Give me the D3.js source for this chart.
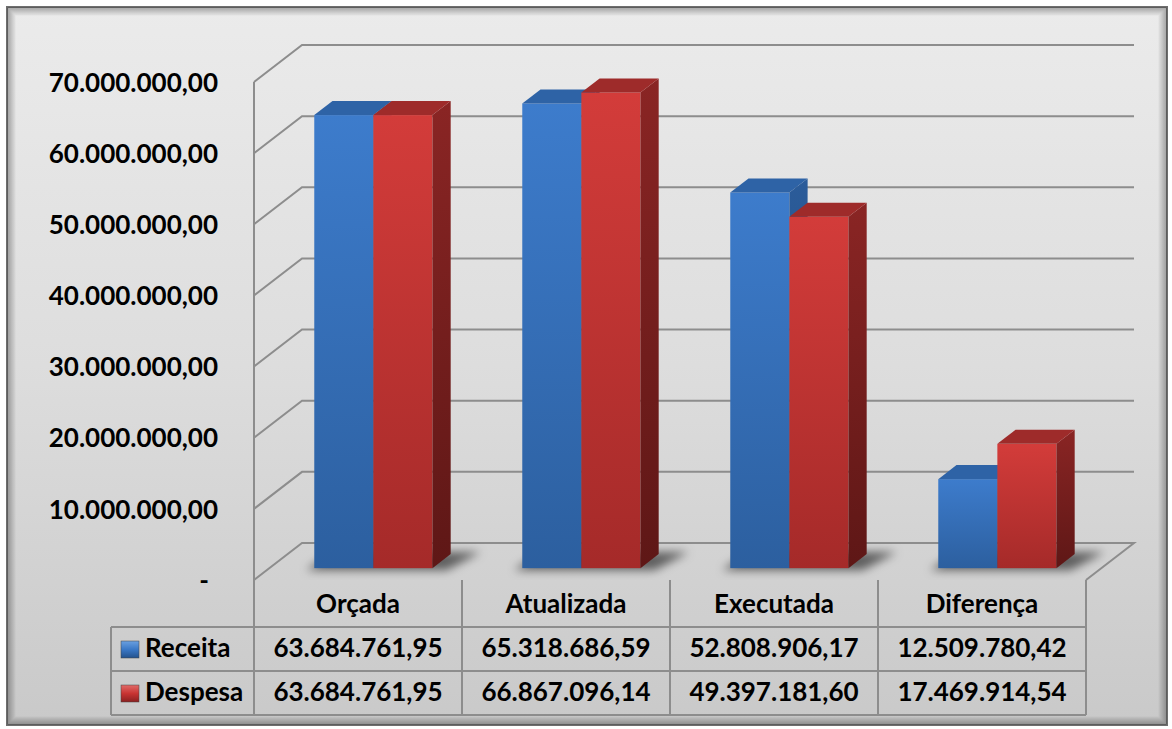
<!DOCTYPE html>
<html lang="pt">
<head>
<meta charset="UTF-8">
<title>Receita x Despesa</title>
<script src="https://cdn.jsdelivr.net/npm/d3@7/dist/d3.min.js"></script>
<style>
  body { margin: 0; background: #fff; }
  text { font-family: Lato, "Open Sans", sans-serif; font-weight: bold; fill: #000; }
</style>
</head>
<body>
<svg id="chart"></svg>
<script>
const categories = ["Orçada", "Atualizada", "Executada", "Diferença"];
const seriesNames = ["Receita", "Despesa"];
const receita = [63684761.95, 65318686.59, 52808906.17, 12509780.42];
const despesa = [63684761.95, 66867096.14, 49397181.60, 17469914.54];
const yTicks = [0, 10000000, 20000000, 30000000, 40000000, 50000000, 60000000, 70000000];

const W = 1172, H = 729;
const svg = d3.select("#chart").attr("width", W).attr("height", H);
const defs = svg.append("defs");

// oblique depth vector (front -> back wall)
const DX = 48, DY = -37;
const F0 = 0.32, F1 = 0.70;   // bar front / back depth

const x = d3.scaleBand().domain(categories).range([254, 1086]);
const x1 = d3.scaleBand().domain(seriesNames).range([0, x.bandwidth()]).paddingOuter(0.76);
const y = d3.scaleLinear().domain([0, 70000000]).range([580, 82]);

const br = d3.formatLocale({ decimal: ",", thousands: ".", grouping: [3], currency: ["R$", ""] });
const fmt = br.format(",.2f");

// gradients
function vgrad(id, stops) {
  const g = defs.append("linearGradient").attr("id", id).attr("x1", 0).attr("y1", 0).attr("x2", 0).attr("y2", 1);
  stops.forEach(s => g.append("stop").attr("offset", s[0]).attr("stop-color", s[1]));
}
vgrad("bg", [[0, "#ebebeb"], [0.5, "#dddddd"], [1, "#c9c9c9"]]);
vgrad("blueFront", [[0, "#3d7ccc"], [1, "#2c5f9f"]]);
vgrad("blueSide", [[0, "#2b5c9a"], [1, "#1f4475"]]);
vgrad("redFront", [[0, "#d33c3a"], [1, "#a52a29"]]);
vgrad("redSide", [[0, "#8a2524"], [1, "#5e1716"]]);
vgrad("blueKey", [[0, "#6aa0e0"], [0.5, "#3a78c6"], [1, "#24528c"]]);
vgrad("redKey", [[0, "#e06a68"], [0.5, "#c83432"], [1, "#8a2020"]]);
defs.append("filter").attr("id", "blur").attr("x", -0.5).attr("y", -0.5).attr("width", 2).attr("height", 2)
  .append("feGaussianBlur").attr("stdDeviation", 5);

const styles = {
  Receita: { front: "url(#blueFront)", side: "url(#blueSide)", top: "#2e63a6", key: "url(#blueKey)" },
  Despesa: { front: "url(#redFront)", side: "url(#redSide)", top: "#9e2b2a", key: "url(#redKey)" }
};

// frame with inner shadow
svg.append("rect").attr("x", 7).attr("y", 7).attr("width", 1160).attr("height", 718)
  .attr("fill", "url(#bg)").attr("stroke", "#6e6e6e").attr("stroke-width", 2);
for (let i = 0; i < 8; i++) {
  svg.append("rect").attr("x", 8 + i).attr("y", 8 + i).attr("width", 1158 - 2 * i).attr("height", 716 - 2 * i)
    .attr("fill", "none").attr("stroke", "#000").attr("stroke-opacity", 0.3 - i * 0.037);
}

const grid = svg.append("g").attr("stroke", "#8d8d8d").attr("stroke-width", 2).attr("fill", "none");

// floor
const x0 = x.range()[0], xN = x.range()[1];
grid.append("path")
  .attr("d", `M${x0},${y(0)}L${x0 + DX},${y(0) + DY}L${xN + DX},${y(0) + DY}L${xN},${y(0)}`);

// gridlines: left wall diagonal + back wall
yTicks.filter(d => d > 0).forEach(v => {
  grid.append("path")
    .attr("d", `M${x0},${y(v)}L${x0 + DX},${y(v) + DY}L${xN + DX},${y(v) + DY}`);
});
grid.append("line").attr("x1", x0).attr("x2", x0).attr("y1", y(70000000)).attr("y2", y(0));

// y labels
svg.append("g").selectAll("text").data(yTicks).join("text")
  .attr("x", 218).attr("y", d => y(d) + 3)
  .attr("text-anchor", d => d === 0 ? "middle" : "end")
  .attr("dx", d => d === 0 ? -14 : 0)
  .attr("dominant-baseline", "middle")
  .attr("font-size", 26)
  .text(d => d === 0 ? "-" : fmt(d));

// bars
const rows = categories.map((c, i) => ({ cat: c, Receita: receita[i], Despesa: despesa[i] }));
const bars = svg.append("g");
const shadows = bars.append("g").attr("filter", "url(#blur)");
rows.forEach(r => {
  const xs = x(r.cat) + x1("Receita");
  const xl = x(r.cat) + x1("Despesa") + x1.bandwidth();
  const yb = y(0);
  shadows.append("path").attr("fill", "#000").attr("opacity", 0.55)
    .attr("d", `M${xs + F0 * DX - 8},${yb + F0 * DY + 2}L${xl + F0 * DX + 14},${yb + F0 * DY + 2}L${xl + F1 * DX + 30},${yb + F1 * DY - 2}L${xs + F1 * DX},${yb + F1 * DY - 2}Z`);
});
rows.forEach(r => {
  seriesNames.forEach(s => {
    const st = styles[s];
    const xa = x(r.cat) + x1(s) + F0 * DX;
    const xb = xa + x1.bandwidth();
    const ya = y(r[s]) + F0 * DY;
    const yb = y(0) + F0 * DY;
    const ddx = (F1 - F0) * DX, ddy = (F1 - F0) * DY;
    const g = bars.append("g");
    g.append("rect").attr("x", xa).attr("y", ya).attr("width", xb - xa).attr("height", yb - ya)
      .attr("fill", st.front);
    g.append("path").attr("fill", st.side)
      .attr("d", `M${xb},${ya}L${xb + ddx},${ya + ddy}L${xb + ddx},${yb + ddy}L${xb},${yb}Z`);
    g.append("path").attr("fill", st.top)
      .attr("d", `M${xa},${ya}L${xa + ddx},${ya + ddy}L${xb + ddx},${ya + ddy}L${xb},${ya}Z`);
  });
});

// data table
const rowH = 44;
const tTop = y(0), r1 = tTop + 47, r2 = r1 + rowH, r3 = r2 + rowH;
const keyL = 111;
const tbl = svg.append("g").attr("stroke", "#8d8d8d").attr("stroke-width", 2);
x.domain().forEach(c => {
  tbl.append("line").attr("x1", x(c)).attr("x2", x(c)).attr("y1", tTop).attr("y2", r3);
});
tbl.append("line").attr("x1", xN).attr("x2", xN).attr("y1", tTop).attr("y2", r3);
tbl.append("line").attr("x1", keyL).attr("x2", keyL).attr("y1", r1).attr("y2", r3);
[r1, r2, r3].forEach(yy => tbl.append("line").attr("x1", keyL).attr("x2", xN).attr("y1", yy).attr("y2", yy));

const cx = c => x(c) + x.bandwidth() / 2;
svg.append("g").selectAll("text").data(categories).join("text")
  .attr("x", cx).attr("y", (tTop + r1) / 2 + 3).attr("text-anchor", "middle")
  .attr("dominant-baseline", "middle").attr("font-size", 26).text(d => d);

const tableRows = [{ name: "Receita", vals: receita, y: (r1 + r2) / 2 }, { name: "Despesa", vals: despesa, y: (r2 + r3) / 2 }];
tableRows.forEach(tr => {
  svg.append("rect").attr("x", 121).attr("y", tr.y - 8).attr("width", 18).attr("height", 17)
    .attr("fill", styles[tr.name].key).attr("stroke", "#444").attr("stroke-width", 0.5);
  svg.append("text").attr("x", 145).attr("y", tr.y + 1).attr("dominant-baseline", "middle")
    .attr("font-size", 26).text(tr.name);
  svg.append("g").selectAll("text").data(tr.vals).join("text")
    .attr("x", (d, i) => cx(categories[i])).attr("y", tr.y + 1).attr("text-anchor", "middle")
    .attr("dominant-baseline", "middle").attr("font-size", 26).text(d => fmt(d));
});
</script>
</body>
</html>
